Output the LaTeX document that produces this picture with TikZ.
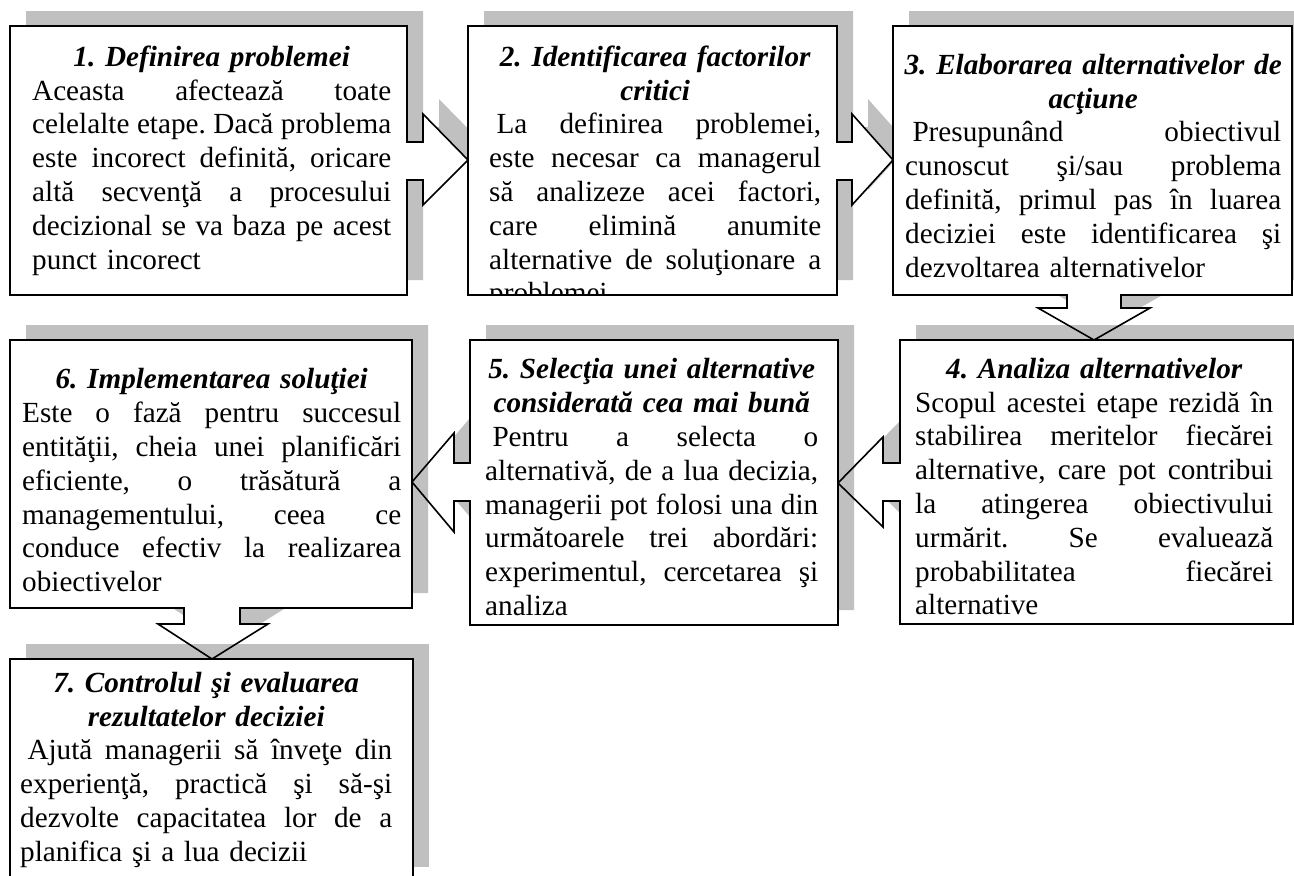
\documentclass[tikz,border=0pt]{standalone}
\usepackage{fontspec}
\setmainfont{Liberation Serif}
\definecolor{shadowgray}{RGB}{192,192,192}

% one text line of a card: heading (centred), justified line, last line
\newcommand\headln[1]{\makebox[\linewidth][c]{\strut\bfseries\itshape #1}\par}
\newcommand\fullln[1]{\makebox[\linewidth][s]{\spaceskip=.25em plus 1fil\xspaceskip=\spaceskip\strut #1}\par}
\newcommand\lastln[1]{\strut #1\par}
\newcommand\lead{\hspace{7.3pt}}

% callout outlines (box with its pointer)
\def\cardA{(10,26) -- (407,26) -- (407,142) -- (423,142) -- (423,114) -- (468,160) -- (423,205) -- (423,180) -- (407,180) -- (407,295) -- (10,295) -- cycle}
\def\cardB{(468,26) -- (837,26) -- (837,142) -- (852,142) -- (852,114) -- (893,160) -- (852,205) -- (852,180) -- (837,180) -- (837,295) -- (468,295) -- cycle}
\def\cardC{(893,26) -- (1292,26) -- (1292,295) -- (1121,295) -- (1121,308) -- (1150,308) -- (1094,340) -- (1038,308) -- (1067,308) -- (1067,295) -- (893,295) -- cycle}
\def\cardD{(900,340) -- (1293,340) -- (1293,624) -- (900,624) -- (900,501) -- (883,501) -- (883,527) -- (838,483) -- (883,437) -- (883,463) -- (900,463) -- cycle}
\def\cardE{(470,340) -- (838,340) -- (838,625) -- (470,625) -- (470,501) -- (454,501) -- (454,532) -- (412,482) -- (454,433) -- (454,463) -- (470,463) -- cycle}
\def\cardF{(10,340) -- (412,340) -- (412,608) -- (240,608) -- (240,624) -- (268,624) -- (212,659) -- (158,624) -- (184,624) -- (184,608) -- (10,608) -- cycle}
\def\cardG{(10,659) -- (413,659) -- (413,882) -- (10,882) -- cycle}

\begin{document}
\frenchspacing
\begin{tikzpicture}[x=1pt,y=-1pt,
  cardshadow/.style={fill=shadowgray,draw=none,shift={(16,-15)}},
  cardfill/.style={fill=white,draw=none},
  cardline/.style={draw=black,line width=1.6pt,line join=miter},
  cardtext/.style={anchor=north west,inner sep=0pt,
    font=\fontsize{29.2pt}{33.8pt}\selectfont\frenchspacing}]
\useasboundingbox (0,0) rectangle (1294,876);
\clip (0,0) rectangle (1294,876);

% shadows and white faces, card by card
\foreach \c in {\cardA,\cardB,\cardC,\cardD,\cardE,\cardF,\cardG}{
  \path[cardshadow] \c;
  \path[cardfill] \c;
}
% outlines on top
\foreach \c in {\cardA,\cardB,\cardC,\cardD,\cardE,\cardF,\cardG}{
  \path[cardline] \c;
}

% texts (first baseline minus strut height)
\node[cardtext,text width=359pt] (t1) at (32,42.5) {%
  \headln{1. Definirea problemei}
  \fullln{Aceasta afectează toate}
  \fullln{celelalte etape. Dacă problema}
  \fullln{este incorect definită, oricare}
  \fullln{altă secvenţă a procesului}
  \fullln{decizional se va baza pe acest}
  \lastln{punct incorect}};

\begin{scope}
\clip (469,27) rectangle (836,294);
\node[cardtext,text width=332pt] (t2) at (489,42.5) {%
  \headln{2. Identificarea factorilor}
  \headln{critici}
  \fullln{\lead La definirea problemei,}
  \fullln{este necesar ca managerul}
  \fullln{să analizeze acei factori,}
  \fullln{care elimină anumite}
  \fullln{alternative de soluţionare a}
  \lastln{problemei}};
\end{scope}

\node[cardtext,text width=376pt] (t3) at (905,50.5) {%
  \headln{3. Elaborarea alternativelor de}
  \headln{acţiune}
  \fullln{\lead Presupunând obiectivul}
  \fullln{cunoscut şi/sau problema}
  \fullln{definită, primul pas în luarea}
  \fullln{deciziei este identificarea şi}
  \lastln{dezvoltarea alternativelor}};

\node[cardtext,text width=358pt] (t4) at (915,354.5) {%
  \headln{4. Analiza alternativelor}
  \fullln{Scopul acestei etape rezidă în}
  \fullln{stabilirea meritelor fiecărei}
  \fullln{alternative, care pot contribui}
  \fullln{la atingerea obiectivului}
  \fullln{urmărit. Se evaluează}
  \fullln{probabilitatea fiecărei}
  \lastln{alternative}};

\node[cardtext,text width=333pt] (t5) at (485,355) {%
  \headln{5. Selecţia unei alternative}
  \headln{considerată cea mai bună}
  \fullln{\lead Pentru a selecta o}
  \fullln{alternativă, de a lua decizia,}
  \fullln{managerii pot folosi una din}
  \fullln{următoarele trei abordări:}
  \fullln{experimentul, cercetarea şi}
  \lastln{analiza}};

\node[cardtext,text width=379pt] (t6) at (22,365) {%
  \headln{6. Implementarea soluţiei}
  \fullln{Este o fază pentru succesul}
  \fullln{entităţii, cheia unei planificări}
  \fullln{eficiente, o trăsătură a}
  \fullln{managementului, ceea ce}
  \fullln{conduce efectiv la realizarea}
  \lastln{obiectivelor}};

\node[cardtext,text width=372pt] (t7) at (20,668.5) {%
  \headln{7. Controlul şi evaluarea}
  \headln{rezultatelor deciziei}
  \fullln{\lead Ajută managerii să înveţe din}
  \fullln{experienţă, practică şi să-şi}
  \fullln{dezvolte capacitatea lor de a}
  \lastln{planifica şi a lua decizii}};
\end{tikzpicture}
\end{document}
